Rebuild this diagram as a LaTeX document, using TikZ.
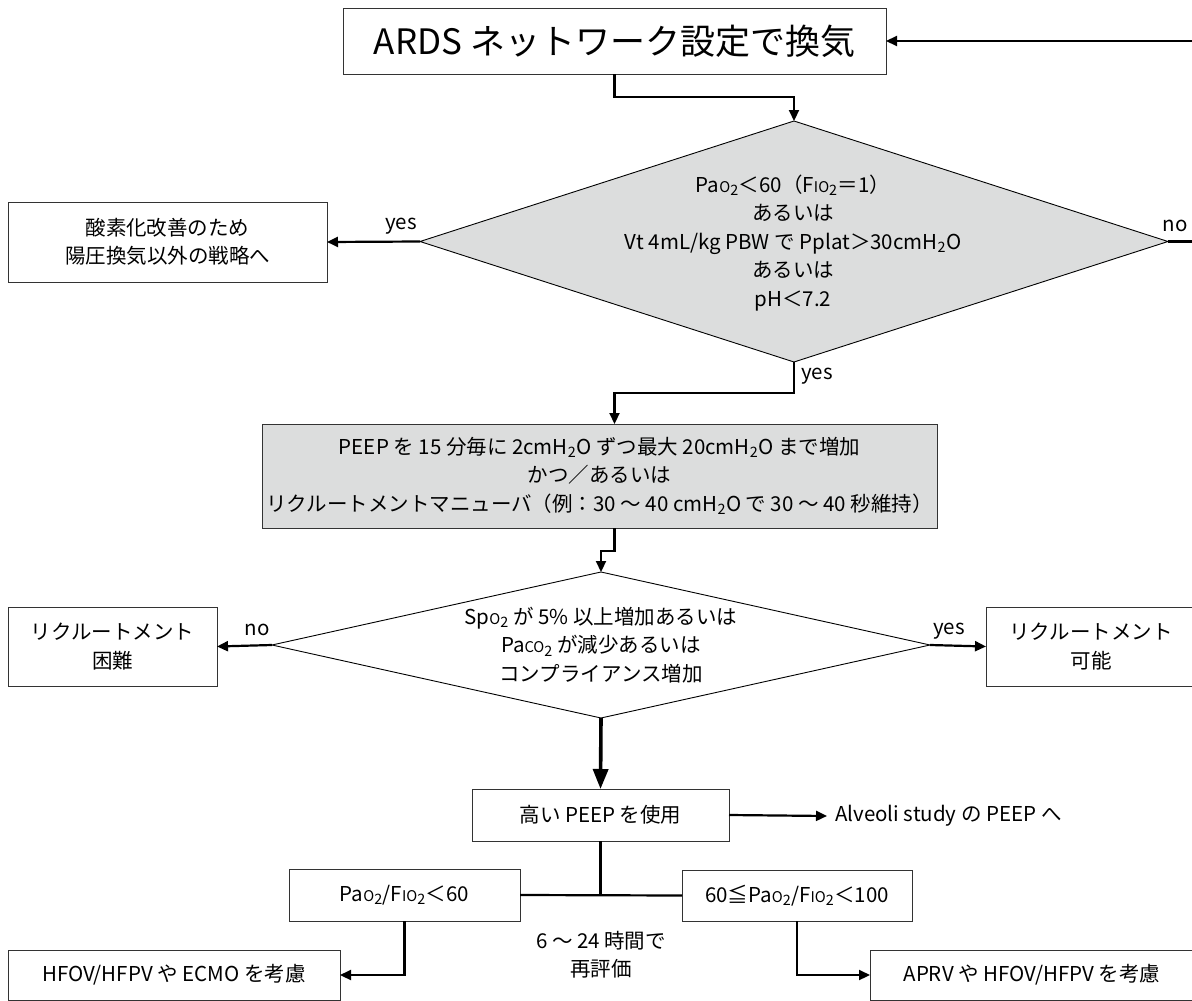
\documentclass[tikz,border=0pt]{standalone}
\usepackage{fontspec}
\setmainfont{Noto Sans CJK JP}
\usetikzlibrary{arrows.meta,shapes.geometric}
\definecolor{dgray}{HTML}{DCDDDD}
\definecolor{edge}{HTML}{333333}
\newcommand\smc[1]{\scalebox{0.72}{#1}}
\newcommand\two{\textsubscript{2}}
\newcommand\PaO{Pa\smc{O}\two}
\newcommand\FiO{F\smc{IO}\two}
\newcommand\fwlt{\symbol{"FF1C}}
\newcommand\fwgt{\symbol{"FF1E}}
\newcommand\fweq{\symbol{"FF1D}}
\newcommand\fwlp{\symbol{"FF08}}
\newcommand\fwrp{\symbol{"FF09}}
\newcommand\fwcolon{\symbol{"FF1A}}
\newcommand\fwslash{\symbol{"FF0F}}
\newcommand\fwle{\symbol{"2266}}
\newcommand\wave{\symbol{"301C}}
\begin{document}
\begin{tikzpicture}[x=1pt,y=-1pt,
  font=\fontsize{20.5}{28.5}\selectfont,
  box/.style={draw=edge, line width=1pt, inner sep=0pt, outer sep=0pt, align=center},
  gbox/.style={box, fill=dgray},
  dia/.style={diamond, draw=black, line width=0.9pt, inner sep=0pt, outer sep=0pt},
  txt/.style={inner sep=0pt, align=center},
  lbl/.style={inner sep=0pt},
  conn/.style={line width=2.2pt, -{Triangle[length=11pt,width=10pt]}},
  plain/.style={line width=2.2pt},
  bigconn/.style={line width=3.6pt, -{Triangle[length=20pt,width=15pt]}}]
\useasboundingbox (0,0) rectangle (1192,1001);
\clip (0,0) rectangle (1192,1001);

% top box
\node[box, minimum width=543, minimum height=66, font=\fontsize{35}{40}\selectfont] (top) at (614.5,41) {ARDS ネットワーク設定で換気};
\coordinate (rin) at (1195,41);
\draw[conn] (rin) -- (top.east);

% decision 1
\node[dia, fill=dgray, minimum width=748, minimum height=241] (d1) at (794,241.5) {};
\node[txt] (d1t) at (793,243) {\PaO\fwlt 60\fwlp\FiO\fweq 1\fwrp\\あるいは\\Vt 4mL/kg PBW で Pplat\fwgt 30cmH\two O\\あるいは\\pH\fwlt 7.2};
\draw[conn] (top.south) -- ++(0,23) -| (d1.north);

\node[box, minimum width=319, minimum height=80] (b1) at (167.5,242) {酸素化改善のため\\陽圧換気以外の戦略へ};
\draw[conn] (d1.west) -- (b1.east);
\node[lbl] (yes1) at (401,226) {yes};

\coordinate (rout) at (1195,241.5);
\draw[plain] (d1.east) -- (rout);
\node[lbl] (no1) at (1175,226) {no};

% gray box
\node[gbox, minimum width=675, minimum height=104] (g) at (599.5,476) {PEEP を 15 分毎に 2cmH\two O ずつ最大 20cmH\two O まで増加\\かつ\fwslash あるいは\\リクルートメントマニューバ\fwlp 例\fwcolon 30 \wave{} 40 cmH\two O で 30 \wave{} 40 秒維持\fwrp};
\draw[conn] (d1.south) -- ++(0,31) -| ([xshift=15pt]g.north);
\node[lbl] (yes2) at (817,376) {yes};

% decision 2
\node[dia, fill=white, minimum width=658, minimum height=146] (d2) at (601,645) {};
\node[txt] (d2t) at (601,645) {Sp\smc{O}\two{} が 5\% 以上増加あるいは\\Pa\smc{CO}\two{} が減少あるいは\\コンプライアンス増加};
\draw[conn] ([xshift=15pt]g.south) -- ++(0,23) -| (d2.north);

\node[box, minimum width=209, minimum height=79] (lb2) at (112.5,646.5) {リクルートメント\\困難};
\node[box, minimum width=210, minimum height=79] (rb2) at (1091,646.5) {リクルートメント\\可能};
\draw[conn] (d2.west) -- (lb2.east);
\draw[conn] (d2.east) -- (rb2.west);
\node[lbl] (no2) at (257,630) {no};
\node[lbl] (yes3) at (949,631) {yes};

% high PEEP
\node[box, minimum width=257, minimum height=52] (peep) at (600.5,815) {高い PEEP を使用};
\draw[bigconn] (d2.south) -- (peep.north);
\node[lbl, anchor=west] (alv) at (835,816) {Alveoli study の PEEP へ};
\draw[conn] (peep.east) -- ([xshift=-8pt]alv.west);

% branches
\node[box, minimum width=231, minimum height=52] (lo) at (404.5,895) {\PaO/\FiO\fwlt 60};
\node[box, minimum width=230, minimum height=51] (hi) at (797,895.5) {60\fwle\PaO/\FiO\fwlt 100};
\draw[plain] (lo.east) -- (hi.west);
\draw[plain] (peep.south) -- (peep.south |- lo.east);
\node[txt] (re) at (601,954.5) {6 \wave{} 24 時間で\\再評価};

\node[box, minimum width=332, minimum height=50] (hfov) at (174,975) {HFOV/HFPV や ECMO を考慮};
\node[box, minimum width=324, minimum height=50] (aprv) at (1032,975) {APRV や HFOV/HFPV を考慮};
\draw[conn] (lo.south) |- (hfov.east);
\draw[conn] (hi.south) |- (aprv.west);
\end{tikzpicture}
\end{document}
